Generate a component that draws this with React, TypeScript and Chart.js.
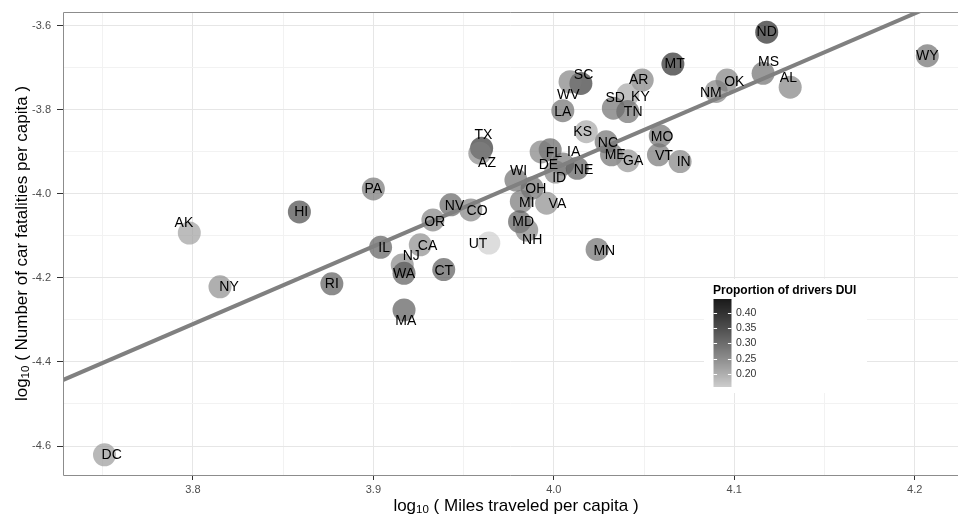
import React, { useEffect, useRef } from 'react';
import { Chart, registerables } from 'chart.js';
Chart.register(...registerables);

const states = ['AK','HI','PA','NY','RI','DC','SC','WV','LA','AR','KY','SD','TN','MT','ND','MS','AL','OK','NM','WY','MO','VT','IN','NC','ME','GA','KS','FL','DE','IA','ID','NE','TX','AZ','WI','OH','MI','VA','MD','NH','NV','CO','OR','UT','MN','IL','CA','NJ','WA','CT','MA'];
const milesLog = [3.798, 3.859, 3.900, 3.815, 3.877, 3.751, 4.015, 4.009, 4.005, 4.049, 4.041, 4.033, 4.041, 4.066, 4.118, 4.116, 4.131, 4.096, 4.090, 4.207, 4.059, 4.058, 4.070, 4.029, 4.032, 4.041, 4.018, 3.998, 3.993, 4.005, 4.001, 4.013, 3.960, 3.959, 3.979, 3.988, 3.982, 3.996, 3.981, 3.985, 3.943, 3.954, 3.933, 3.964, 4.024, 3.904, 3.926, 3.916, 3.917, 3.939, 3.917];
const fatalLog = [-4.093, -4.043, -3.988, -4.221, -4.214, -4.621, -3.737, -3.733, -3.802, -3.729, -3.764, -3.796, -3.804, -3.691, -3.615, -3.713, -3.746, -3.729, -3.756, -3.671, -3.862, -3.907, -3.923, -3.876, -3.907, -3.921, -3.852, -3.895, -3.900, -3.929, -3.948, -3.939, -3.891, -3.903, -3.967, -3.986, -4.018, -4.022, -4.066, -4.086, -4.026, -4.038, -4.062, -4.117, -4.132, -4.127, -4.121, -4.169, -4.189, -4.180, -4.276];
const duiProp = [0.23, 0.38, 0.30, 0.26, 0.345, 0.24, 0.41, 0.28, 0.31, 0.28, 0.22, 0.31, 0.31, 0.44, 0.445, 0.31, 0.28, 0.28, 0.28, 0.31, 0.31, 0.30, 0.28, 0.31, 0.31, 0.25, 0.22, 0.33, 0.28, 0.30, 0.28, 0.34, 0.42, 0.27, 0.31, 0.31, 0.30, 0.26, 0.34, 0.28, 0.33, 0.28, 0.28, 0.157, 0.31, 0.34, 0.26, 0.27, 0.345, 0.345, 0.345];
// jittered text positions (data units)
const labelX = [3.795, 3.860, 3.900, 3.820, 3.877, 3.755, 4.0165, 4.008, 4.005, 4.047, 4.048, 4.034, 4.044, 4.067, 4.118, 4.119, 4.130, 4.100, 4.087, 4.207, 4.060, 4.061, 4.072, 4.030, 4.034, 4.044, 4.016, 4.000, 3.997, 4.011, 4.003, 4.0165, 3.961, 3.963, 3.9805, 3.990, 3.985, 4.002, 3.983, 3.988, 3.945, 3.9575, 3.934, 3.958, 4.028, 3.906, 3.930, 3.921, 3.917, 3.939, 3.918];
const labelY = [-4.069, -4.043, -3.988, -4.223, -4.214, -4.622, -3.717, -3.764, -3.806, -3.730, -3.769, -3.772, -3.806, -3.691, -3.615, -3.686, -3.725, -3.733, -3.759, -3.671, -3.864, -3.910, -3.925, -3.879, -3.907, -3.921, -3.854, -3.902, -3.931, -3.901, -3.963, -3.943, -3.860, -3.926, -3.945, -3.988, -4.022, -4.024, -4.066, -4.111, -4.030, -4.041, -4.066, -4.119, -4.135, -4.129, -4.125, -4.149, -4.191, -4.183, -4.302];
const fitX = [3.70, 4.25];
const fitY = [-4.4947, -3.478];
const legendTicks = [0.20, 0.25, 0.30, 0.35, 0.40];
const xRange = [3.728, 4.224];
const yRange = [-4.669, -3.567];

const FONT = '"Liberation Sans", Arial, Helvetica, sans-serif';

function srgbToLin(c: number) { c /= 255; return c <= 0.04045 ? c / 12.92 : Math.pow((c + 0.055) / 1.055, 2.4); }
function linToSrgb(l: number) { const c = l <= 0.0031308 ? 12.92 * l : 1.055 * Math.pow(l, 1 / 2.4) - 0.055; return Math.round(Math.max(0, Math.min(1, c)) * 255); }
function yToL(Y: number) { return Y > 0.008856 ? 116 * Math.cbrt(Y) - 16 : 903.3 * Y; }
function lToY(L: number) { return L > 8 ? Math.pow((L + 16) / 116, 3) : L / 903.3; }
const L_LOW = yToL(srgbToLin(204));
const L_HIGH = yToL(srgbToLin(26));
function grayAt(t: number) { return linToSrgb(lToY(L_LOW + (L_HIGH - L_LOW) * t)); }

export default function App() {
  const ref = useRef<HTMLCanvasElement>(null);
  useEffect(() => {
    document.body.style.margin = '0';
    const canvas = ref.current!;
    const vmin = Math.min(...duiProp);
    const vmax = Math.max(...duiProp);
    const colorFor = (v: number) => {
      const g = grayAt((v - vmin) / (vmax - vmin));
      return `rgba(${g},${g},${g},0.66)`;
    };
    const isMajorX = (v: number) => Math.abs(v * 10 - Math.round(v * 10)) < 1e-6;
    const isMajorY = (v: number) => Math.abs(Math.round(v * 10)) % 2 === 0;

    const overlay = {
      id: 'overlay',
      afterDatasetsDraw(chart: any) {
        const ctx = chart.ctx;
        const xs = chart.scales.x, ys = chart.scales.y;
        const a = chart.chartArea;
        ctx.save();
        ctx.beginPath();
        ctx.rect(a.left, a.top, a.right - a.left, a.bottom - a.top);
        ctx.clip();
        ctx.fillStyle = '#000';
        ctx.font = `14px ${FONT}`;
        ctx.textAlign = 'center';
        ctx.textBaseline = 'middle';
        states.forEach((s, i) => {
          ctx.fillText(s, xs.getPixelForValue(labelX[i]), ys.getPixelForValue(labelY[i]));
        });
        ctx.restore();
      },
      afterDraw(chart: any) {
        const ctx = chart.ctx;
        const a = chart.chartArea;
        ctx.save();
        // panel border
        ctx.strokeStyle = '#8c8c8c';
        ctx.lineWidth = 1;
        ctx.beginPath();
        ctx.moveTo(chart.width, a.top + 0.5);
        ctx.lineTo(a.left + 0.5, a.top + 0.5);
        ctx.lineTo(a.left + 0.5, a.bottom + 0.5);
        ctx.lineTo(chart.width, a.bottom + 0.5);
        ctx.stroke();

        // axis titles
        const drawLogTitle = (rest: string, cx: number, cy: number) => {
          ctx.font = `17px ${FONT}`;
          const w1 = ctx.measureText('log').width;
          const w3 = ctx.measureText(rest).width;
          ctx.font = `11.5px ${FONT}`;
          const w2 = ctx.measureText('10').width;
          const total = w1 + w2 + w3;
          let x = cx - total / 2;
          ctx.fillStyle = '#000';
          ctx.textAlign = 'left';
          ctx.textBaseline = 'middle';
          ctx.font = `17px ${FONT}`;
          ctx.fillText('log', x, cy);
          x += w1;
          ctx.font = `11.5px ${FONT}`;
          ctx.fillText('10', x, cy + 4);
          x += w2;
          ctx.font = `17px ${FONT}`;
          ctx.fillText(rest, x, cy);
        };
        const panelCx = (a.left + 969) / 2;
        drawLogTitle(' ( Miles traveled per capita )', panelCx, 506);
        ctx.save();
        ctx.translate(22, (a.top + a.bottom) / 2);
        ctx.rotate(-Math.PI / 2);
        drawLogTitle(' ( Number of car fatalities per capita )', 0, 0);
        ctx.restore();

        // legend
        const bx = 713.5, bw = 18, btop = 299, bbot = 387;
        ctx.fillStyle = '#ffffff';
        ctx.fillRect(704, 279, 163, 114);
        ctx.fillStyle = '#000';
        ctx.font = `bold 12px ${FONT}`;
        ctx.textAlign = 'left';
        ctx.textBaseline = 'alphabetic';
        ctx.fillText('Proportion of drivers DUI', 713, 294);
        for (let yy = btop; yy < bbot; yy++) {
          const t = (bbot - (yy + 0.5)) / (bbot - btop);
          const g = grayAt(t);
          ctx.fillStyle = `rgb(${g},${g},${g})`;
          ctx.fillRect(bx, yy, bw, 1);
        }
        ctx.font = `10.5px ${FONT}`;
        ctx.textBaseline = 'middle';
        legendTicks.forEach((v) => {
          const py = Math.round(bbot - ((v - vmin) / (vmax - vmin)) * (bbot - btop)) + 0.5;
          ctx.strokeStyle = '#ffffff';
          ctx.beginPath();
          ctx.moveTo(bx, py); ctx.lineTo(bx + 3.6, py);
          ctx.moveTo(bx + bw - 3.6, py); ctx.lineTo(bx + bw, py);
          ctx.stroke();
          ctx.fillStyle = '#333';
          ctx.fillText(v.toFixed(2), 736, py);
        });
        ctx.restore();
      },
    };

    const chart = new Chart(canvas, {
      type: 'scatter',
      data: {
        datasets: [
          {
            type: 'line',
            data: fitX.map((x, i) => ({ x, y: fitY[i] })),
            borderColor: '#808080',
            borderWidth: 4,
            pointRadius: 0,
            fill: false,
            order: 0,
          } as any,
          {
            type: 'scatter',
            data: states.map((_, i) => ({ x: milesLog[i], y: fatalLog[i] })),
            backgroundColor: duiProp.map(colorFor),
            borderWidth: 0,
            pointRadius: 11.5,
            pointHoverRadius: 11.5,
            order: 1,
          } as any,
        ],
      },
      options: {
        animation: false,
        responsive: false,
        events: [],
        layout: { autoPadding: false, padding: { top: 12, right: 0, left: 0, bottom: 0 } },
        plugins: { legend: { display: false }, tooltip: { enabled: false } },
        scales: {
          x: {
            type: 'linear',
            min: xRange[0],
            max: xRange[1],
            afterFit: (s: any) => { s.height = 42; s.paddingLeft = 0; s.paddingRight = 0; },
            border: { display: false },
            ticks: {
              stepSize: 0.05,
              includeBounds: false,
              autoSkip: false,
              maxRotation: 0,
              padding: 3,
              color: '#4d4d4d',
              font: { family: FONT, size: 11 },
              callback: (v: any) => (isMajorX(Number(v)) ? Number(v).toFixed(1) : ''),
            },
            grid: {
              color: (c: any) => (c.tick && isMajorX(c.tick.value) ? '#e6e6e6' : '#f2f2f2'),
              tickColor: (c: any) => (c.tick && isMajorX(c.tick.value) ? '#333' : 'rgba(0,0,0,0)'),
              tickLength: 5,
            },
          },
          y: {
            type: 'linear',
            min: yRange[0],
            max: yRange[1],
            afterFit: (s: any) => { s.width = 63; s.paddingTop = 0; s.paddingBottom = 0; },
            border: { display: false },
            ticks: {
              stepSize: 0.1,
              includeBounds: false,
              autoSkip: false,
              padding: 6,
              color: '#4d4d4d',
              font: { family: FONT, size: 11 },
              callback: (v: any) => (isMajorY(Number(v)) ? Number(v).toFixed(1) : ''),
            },
            grid: {
              color: (c: any) => (c.tick && isMajorY(c.tick.value) ? '#e6e6e6' : '#f2f2f2'),
              tickColor: (c: any) => (c.tick && isMajorY(c.tick.value) ? '#333' : 'rgba(0,0,0,0)'),
              tickLength: 6,
            },
          },
        },
      },
      plugins: [overlay],
    });
    return () => chart.destroy();
  }, []);
  return (
    <div style={{ position: 'absolute', left: 0, top: 0, width: 958, height: 517 }}>
      <canvas ref={ref} width={958} height={517} style={{ width: 958, height: 517, display: 'block' }} />
    </div>
  );
}
